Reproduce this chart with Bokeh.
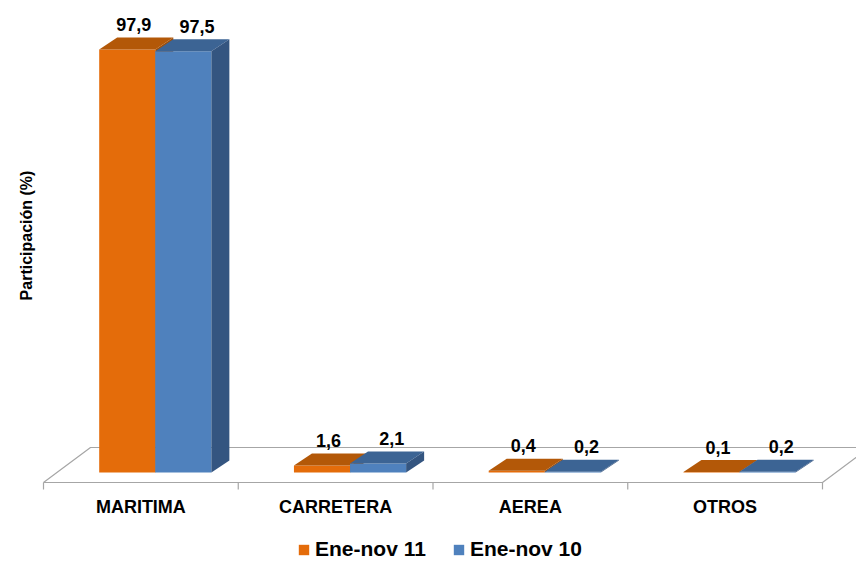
import numpy as np
from bokeh.plotting import figure
from bokeh.models import (ColumnDataSource, Label, Legend, LegendItem, Range1d)
from bokeh.core.properties import value
from bokeh.embed import file_html
from bokeh.resources import INLINE

# ---- data ----
categories = ["MARITIMA", "CARRETERA", "AEREA", "OTROS"]
series_names = ["Ene-nov 11", "Ene-nov 10"]
ene_nov_11 = [97.9, 1.6, 0.4, 0.1]
ene_nov_10 = [97.5, 2.1, 0.2, 0.2]
value_labels_11 = ["97,9", "1,6", "0,4", "0,1"]
value_labels_10 = ["97,5", "2,1", "0,2", "0,2"]

# ---- style / geometry ----
FONT = "Liberation Sans"
ORANGE = dict(front="#E46C0A", top="#B35808", side="#A04E07")
BLUE = dict(front="#4F81BD", top="#3C6494", side="#345580")
GRID_GREY = "#A6A6A6"
BAR_OFFSET = 0.286      # left edge of first bar inside a category
BAR_W = 0.288           # bar width (category units)
DX, DY = 0.0924, 2.78   # 3-D depth of bars (x units, y units)
FLOOR_FRONT = -2.3148   # y of the front edge of the floor
FLOOR_DX, FLOOR_DY = 0.2413, 8.1
TICK_LEN = 1.6          # category tick length (y units)
CAT_LABEL_Y = -8.1      # y of the category labels

n = len(categories)
idx = np.arange(n)

p = figure(frame_width=856, frame_height=561,
           x_range=Range1d(-0.2208, 4.1746), y_range=Range1d(-20.60, 109.26),
           output_backend="svg", toolbar_location=None,
           x_axis_location=None, y_axis_location=None,
           min_border_left=0, min_border_right=0, min_border_top=0, min_border_bottom=0)
p.grid.visible = False
p.outline_line_color = None
p.background_fill_color = "white"
p.border_fill_color = "white"

# floor (3-D base plane); its front edge is the category axis line
floor_x = [0, n, n + FLOOR_DX, FLOOR_DX]
floor_y = [FLOOR_FRONT, FLOOR_FRONT, FLOOR_FRONT + FLOOR_DY, FLOOR_FRONT + FLOOR_DY]
p.patch(floor_x, floor_y, fill_color="white", line_color=GRID_GREY, line_width=1.2)

# category axis: ticks at boundaries, labels at centres
bounds = np.arange(n + 1)
p.segment(x0=bounds, y0=FLOOR_FRONT, x1=bounds, y1=FLOOR_FRONT - TICK_LEN,
          line_color=GRID_GREY, line_width=1.2)
p.text(x=idx + 0.5, y=CAT_LABEL_Y, text=categories, text_align="center",
       text_baseline="middle", text_font=value(FONT), text_font_style="bold",
       text_font_size="18px", text_color="black")


def draw_series(vals, shift, colors):
    vals = np.asarray(vals, dtype=float)
    left = idx + BAR_OFFSET + shift * BAR_W
    right = left + BAR_W
    front = p.quad(left=left, right=right, bottom=0, top=vals,
                   fill_color=colors["front"], line_color=None)
    top_xs = [[l, r, r + DX, l + DX] for l, r in zip(left, right)]
    top_ys = [[v, v, v + DY, v + DY] for v in vals]
    p.patches(top_xs, top_ys, fill_color=colors["top"], line_color=None)
    side_xs = [[r, r, r + DX, r + DX] for r in right]
    side_ys = [[0, v, v + DY, DY] for v in vals]
    p.patches(side_xs, side_ys, fill_color=colors["side"], line_color=None)
    return front, left


r11, left11 = draw_series(ene_nov_11, 0, ORANGE)
r10, left10 = draw_series(ene_nov_10, 1, BLUE)

# value labels
for vals, left, labels, xoff in [(ene_nov_11, left11, value_labels_11, 0.033),
                                 (ene_nov_10, left10, value_labels_10, 0.07)]:
    src = ColumnDataSource(dict(x=left + BAR_W / 2 + xoff,
                                y=np.asarray(vals) + DY, t=labels))
    p.text(x="x", y="y", text="t", source=src, text_align="center",
           text_baseline="alphabetic", y_offset=-13,
           text_font=value(FONT), text_font_style="bold",
           text_font_size="18px", text_color="black")

# y axis title
p.add_layout(Label(x=-0.0873, y=54.86, text="Participación (%)", angle=np.pi / 2,
                   text_align="center", text_baseline="middle",
                   text_font=FONT, text_font_style="bold", text_font_size="16px",
                   text_color="black"))

legend = Legend(items=[LegendItem(label=series_names[0], renderers=[r11]),
                       LegendItem(label=series_names[1], renderers=[r10])],
                orientation="horizontal", location=(297, 0),
                glyph_width=13, glyph_height=13, label_standoff=5, spacing=26,
                padding=0, margin=0, border_line_color=None, background_fill_alpha=0,
                label_text_font=FONT, label_text_font_style="bold",
                label_text_font_size="21px", label_text_color="black")
p.add_layout(legend, "center")

open("out.html", "w").write(file_html(p, INLINE))
